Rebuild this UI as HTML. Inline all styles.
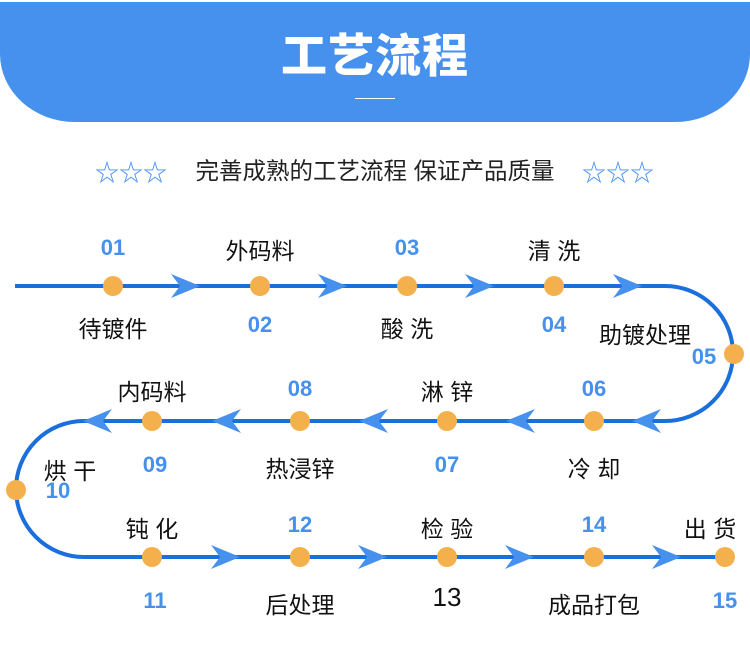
<!DOCTYPE html>
<html><head><meta charset="utf-8"><style>
body{margin:0;width:750px;height:671px;background:#fff;position:relative;overflow:hidden;font-family:"Liberation Sans","Noto Sans CJK SC",sans-serif}
.ban{position:absolute;left:0;top:2px;width:750px;height:120px;background:#4690ee;border-radius:0 0 75px 75px/0 0 68px 68px}
.t{position:absolute;text-align:center;white-space:nowrap;transform:translateX(-50%)}
.l{font-size:23px;color:#111}
.n{font-size:22px;color:#4690ee;font-weight:bold}
</style></head><body>
<div class="ban"></div>
<div class="t" style="left:375px;top:20px;font-size:46px;font-weight:900;color:#fff;letter-spacing:1px">工艺流程</div>
<div style="position:absolute;left:355px;top:98px;width:40px;height:1px;background:#fff"></div>
<div class="t" style="left:375px;top:152px;font-size:23.5px;color:#222">完善成熟的工艺流程 保证产品质量</div>
<div class="t" style="left:131px;top:153px;font-size:24px;color:#4690ee;letter-spacing:0px">☆☆☆</div>
<div class="t" style="left:618px;top:153px;font-size:24px;color:#4690ee;letter-spacing:0px">☆☆☆</div>
<svg width="750" height="671" style="position:absolute;left:0;top:0">
<defs><path id="ar" d="M0 0 L-29 -12 L-20 0 L-29 12 Z" fill="#4690ee"/></defs>
<g fill="none" stroke="#1a6fdc" stroke-width="4">
<path d="M15 286 H665 A68 67.5 0 0 1 665 421 H84 A68 68 0 0 0 84 557 H725"/>
</g>
<g>
<use href="#ar" x="200" y="286"/><use href="#ar" x="347" y="286"/><use href="#ar" x="494" y="286"/><use href="#ar" x="642" y="286"/>
<use href="#ar" transform="translate(632 421) scale(-1 1)"/><use href="#ar" transform="translate(506 421) scale(-1 1)"/><use href="#ar" transform="translate(359 421) scale(-1 1)"/><use href="#ar" transform="translate(212 421) scale(-1 1)"/><use href="#ar" transform="translate(83 421) scale(-1 1)"/>
<use href="#ar" x="240" y="557"/><use href="#ar" x="387" y="557"/><use href="#ar" x="534" y="557"/><use href="#ar" x="681" y="557"/>
</g>
<g fill="#f5b04e">
<circle cx="113" cy="286" r="10"/><circle cx="260" cy="286" r="10"/><circle cx="407" cy="286" r="10"/><circle cx="554" cy="286" r="10"/>
<circle cx="734" cy="354" r="10"/>
<circle cx="594" cy="421" r="10"/><circle cx="447" cy="421" r="10"/><circle cx="300" cy="421" r="10"/><circle cx="152" cy="421" r="10"/>
<circle cx="16" cy="490" r="10"/>
<circle cx="152" cy="557" r="10"/><circle cx="300" cy="557" r="10"/><circle cx="447" cy="557" r="10"/><circle cx="594" cy="557" r="10"/><circle cx="725" cy="557" r="10"/>
</g>
</svg>
<div class="t n" style="left:113px;top:235px">01</div>
<div class="t l" style="left:260px;top:232px">外码料</div>
<div class="t n" style="left:407px;top:235px">03</div>
<div class="t l" style="left:554px;top:232px">清 洗</div>
<div class="t l" style="left:113px;top:310px">待镀件</div>
<div class="t n" style="left:260px;top:312px">02</div>
<div class="t l" style="left:407px;top:310px">酸 洗</div>
<div class="t n" style="left:554px;top:312px">04</div>
<div class="t l" style="left:645px;top:316px">助镀处理</div>
<div class="t n" style="left:704px;top:344px">05</div>
<div class="t l" style="left:152px;top:373px">内码料</div>
<div class="t n" style="left:300px;top:376px">08</div>
<div class="t l" style="left:447px;top:373px">淋 锌</div>
<div class="t n" style="left:594px;top:376px">06</div>
<div class="t n" style="left:155px;top:452px">09</div>
<div class="t l" style="left:300px;top:450px">热浸锌</div>
<div class="t n" style="left:447px;top:452px">07</div>
<div class="t l" style="left:594px;top:450px">冷 却</div>
<div class="t l" style="left:70px;top:452px">烘 干</div>
<div class="t n" style="left:58px;top:478px">10</div>
<div class="t l" style="left:152px;top:510px">钝 化</div>
<div class="t n" style="left:300px;top:512px">12</div>
<div class="t l" style="left:447px;top:510px">检 验</div>
<div class="t n" style="left:594px;top:512px">14</div>
<div class="t l" style="left:710px;top:510px">出 货</div>
<div class="t n" style="left:155px;top:588px">11</div>
<div class="t l" style="left:300px;top:586px">后处理</div>
<div class="t" style="left:447px;top:582px;font-size:26px;color:#111">13</div>
<div class="t l" style="left:594px;top:586px">成品打包</div>
<div class="t n" style="left:725px;top:588px">15</div>
</body></html>
